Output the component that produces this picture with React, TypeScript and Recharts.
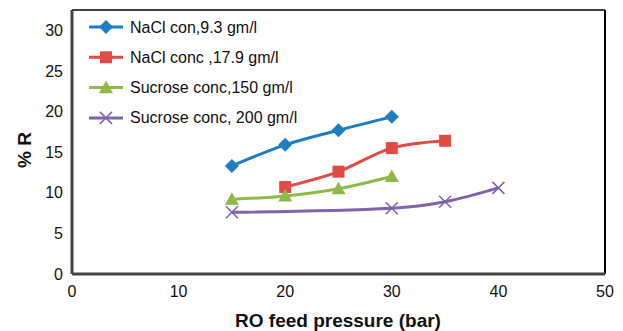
import React from "react";
import { LineChart, Line, XAxis, YAxis, ReferenceLine } from "recharts";

const naclLowX = [15, 20, 25, 30];
const naclLow = [13.3, 15.9, 17.7, 19.35];
const naclHighX = [20, 25, 30, 35];
const naclHigh = [10.7, 12.6, 15.5, 16.4];
const suc150X = [15, 20, 25, 30];
const suc150 = [9.2, 9.6, 10.5, 12.0];
const suc200X = [15, 30, 35, 40];
const suc200 = [7.6, 8.1, 8.9, 10.6];
const xTicks = [0, 10, 20, 30, 40, 50];
const yTicks = [0, 5, 10, 15, 20, 25, 30];
const X_MAX = 50;
const Y_MAX = 32.5;

const build = (xs: number[], ys: number[]) => xs.map((x, i) => ({ x, y: ys[i] }));

const series = [
  { name: "NaCl con,9.3 gm/l", color: "#1F7DC4", shape: "diamond", data: build(naclLowX, naclLow) },
  { name: "NaCl conc ,17.9 gm/l", color: "#E04B45", shape: "square", data: build(naclHighX, naclHigh) },
  { name: "Sucrose conc,150 gm/l", color: "#8DBA48", shape: "triangle", data: build(suc150X, suc150) },
  { name: "Sucrose conc, 200 gm/l", color: "#8262A8", shape: "x", data: build(suc200X, suc200) },
];

const FONT = "Liberation Sans, Arial, sans-serif";

function Marker({ cx, cy, shape, color }: { cx: number; cy: number; shape: string; color: string }) {
  if (shape === "diamond") {
    const r = 7;
    return <polygon points={`${cx},${cy - r} ${cx + r},${cy} ${cx},${cy + r} ${cx - r},${cy}`} fill={color} />;
  }
  if (shape === "square") {
    const r = 6;
    return <rect x={cx - r} y={cy - r} width={2 * r} height={2 * r} fill={color} />;
  }
  if (shape === "triangle") {
    const r = 7;
    return <polygon points={`${cx},${cy - r} ${cx + r},${cy + r * 0.8} ${cx - r},${cy + r * 0.8}`} fill={color} />;
  }
  const r = 6;
  return (
    <g stroke={color} strokeWidth={1.5}>
      <line x1={cx - r} y1={cy - r} x2={cx + r} y2={cy + r} />
      <line x1={cx - r} y1={cy + r} x2={cx + r} y2={cy - r} />
    </g>
  );
}

const LegendBox = () => (
  <svg width={300} height={120} style={{ position: "absolute", left: 85, top: 13 }}>
    {series.map((s, i) => {
      const y = 14 + i * 30.3;
      return (
        <g key={s.name}>
          <line x1={4} x2={38} y1={y} y2={y} stroke={s.color} strokeWidth={3} />
          <Marker cx={21} cy={y} shape={s.shape} color={s.color} />
          <text x={45} y={y + 5.5} fontSize={16} fontFamily={FONT} fill="#111">
            {s.name}
          </text>
        </g>
      );
    })}
  </svg>
);

export default function App() {
  const font = { fontSize: 16, fontFamily: FONT, fill: "#111" };
  return (
    <div style={{ position: "absolute", left: 0, top: 0, width: 623, height: 331, background: "#fff" }}>
      <LineChart width={623} height={331} margin={{ top: 10, right: 18, bottom: 27, left: 12 }}>
        <XAxis
          type="number"
          dataKey="x"
          domain={[0, X_MAX]}
          ticks={xTicks}
          tickLine={false}
          tickSize={0}
          tickMargin={12}
          axisLine={{ stroke: "#444", strokeWidth: 3 }}
          tick={font}
          height={30}
          allowDuplicatedCategory={false}
        />
        <YAxis
          type="number"
          domain={[0, Y_MAX]}
          ticks={yTicks}
          tickLine={false}
          tickSize={0}
          tickMargin={9}
          axisLine={{ stroke: "#444", strokeWidth: 3 }}
          tick={font}
          width={60}
        />
        <ReferenceLine y={Y_MAX} stroke="#000" strokeWidth={1.5} />
        <ReferenceLine x={X_MAX} stroke="#000" strokeWidth={2} />
        {series.map((s) => (
          <Line
            key={s.name}
            data={s.data}
            dataKey="y"
            name={s.name}
            type="monotone"
            stroke={s.color}
            strokeWidth={3}
            isAnimationActive={false}
            dot={(p: any) => <Marker key={`${s.name}-${p.index}`} cx={p.cx} cy={p.cy} shape={s.shape} color={s.color} />}
            activeDot={false}
          />
        ))}
      </LineChart>
      <LegendBox />
      <div
        style={{
          position: "absolute",
          left: 0,
          top: 150,
          transform: "translate(7px, -50%) rotate(-90deg)",
          transformOrigin: "center",
          fontFamily: FONT,
          fontWeight: "bold",
          fontSize: 19,
          color: "#111",
          whiteSpace: "nowrap",
        }}
      >
        % R
      </div>
      <div
        style={{
          position: "absolute",
          left: 0,
          width: 676,
          top: 310,
          textAlign: "center",
          fontFamily: FONT,
          fontWeight: "bold",
          fontSize: 19,
          color: "#111",
        }}
      >
        RO feed pressure (bar)
      </div>
    </div>
  );
}
